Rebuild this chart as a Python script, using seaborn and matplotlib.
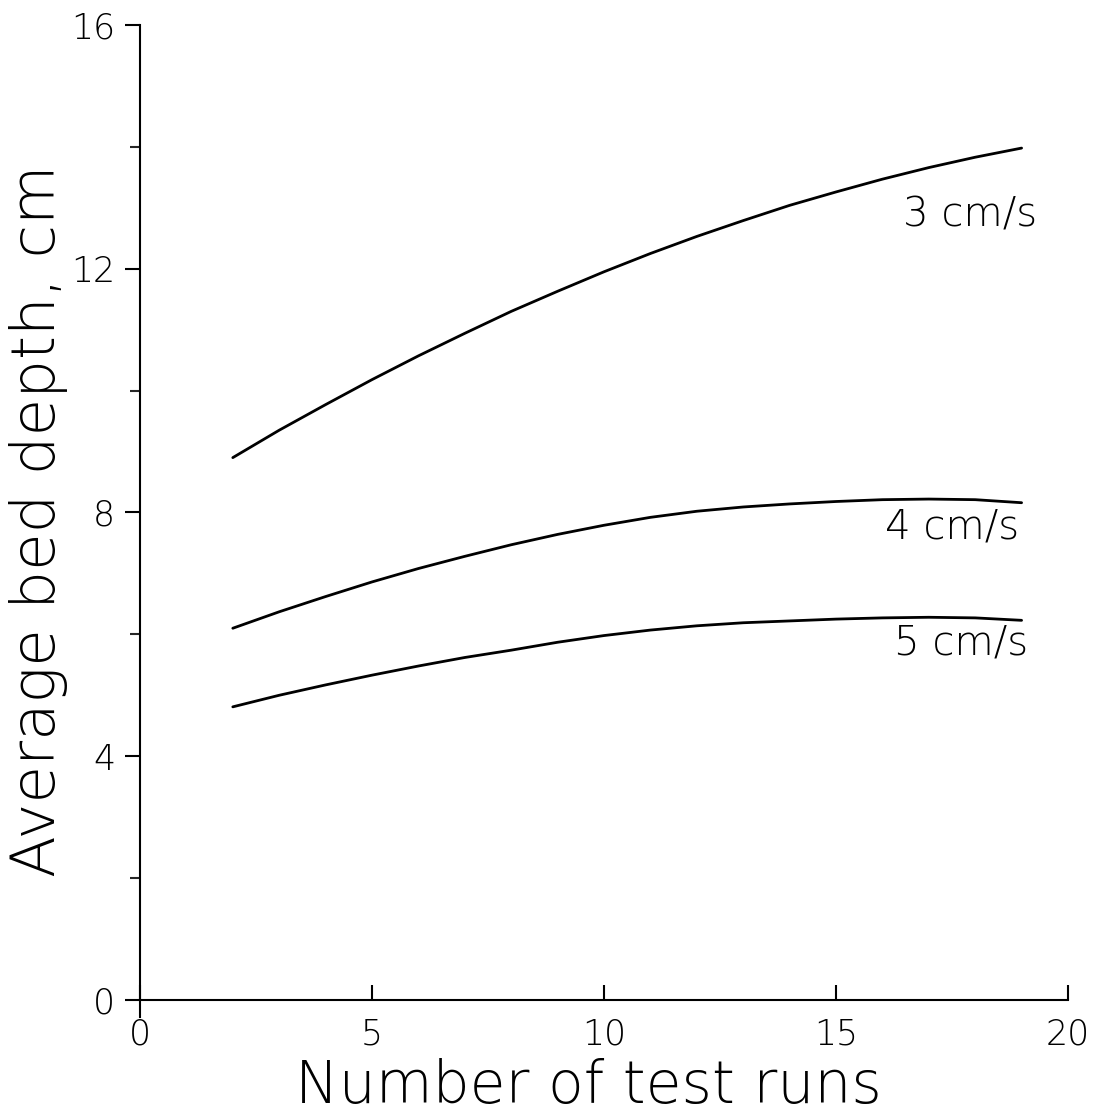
import numpy as np
import pandas as pd
import matplotlib
matplotlib.use("Agg")
import matplotlib.pyplot as plt
import seaborn as sns

# ---- data ----
test_runs = [2, 3, 4, 5, 6, 7, 8, 9, 10, 11, 12, 13, 14, 15, 16, 17, 18, 19]
depth_3cms = [8.90, 9.35, 9.77, 10.18, 10.57, 10.94, 11.30, 11.63, 11.95, 12.25,
              12.53, 12.79, 13.04, 13.26, 13.47, 13.66, 13.83, 13.98]
depth_4cms = [6.10, 6.37, 6.62, 6.86, 7.08, 7.28, 7.47, 7.64, 7.79, 7.92,
              8.02, 8.09, 8.14, 8.18, 8.21, 8.22, 8.21, 8.16]
depth_5cms = [4.81, 5.00, 5.17, 5.33, 5.48, 5.62, 5.74, 5.87, 5.98, 6.07,
              6.14, 6.19, 6.22, 6.25, 6.27, 6.28, 6.27, 6.23]
series_labels = ["3 cm/s", "4 cm/s", "5 cm/s"]
label_x = [16.45, 16.05, 16.25]
label_y = [12.88, 7.76, 5.86]
x_ticks = [0, 5, 10, 15, 20]
y_ticks = [0, 4, 8, 12, 16]
y_minor = [2, 6, 10, 14]
x_title = "Number of test runs"
y_title = "Average bed depth, cm"

df = pd.DataFrame({
    "runs": test_runs * 3,
    "depth": depth_3cms + depth_4cms + depth_5cms,
    "speed": [series_labels[0]] * len(test_runs)
             + [series_labels[1]] * len(test_runs)
             + [series_labels[2]] * len(test_runs),
})

sns.set_style("ticks")
plt.rcParams["font.family"] = ["DejaVu Sans"]

fig = plt.figure(figsize=(10.97, 11.18), dpi=100)
ax = fig.add_axes([140 / 1097, 1 - 1017 / 1118, (1068 - 140) / 1097, (1017 - 25) / 1118])

sns.lineplot(data=df, x="runs", y="depth", hue="speed",
             palette=["black"] * 3, linewidth=2.0, legend=False, ax=ax)

for lab, lx, ly in zip(series_labels, label_x, label_y):
    ax.text(lx, ly, lab, fontsize=29, ha="left", va="center",
            color="black", fontweight="light")

ax.set_xlim(0, 20)
ax.set_ylim(-0.28, 16)
ax.spines["top"].set_visible(False)
ax.spines["right"].set_visible(False)
ax.spines["bottom"].set_position(("data", 0))
for s in ("left", "bottom"):
    ax.spines[s].set_linewidth(1.5)
    ax.spines[s].set_color("black")

ax.set_xticks(x_ticks)
ax.set_xticklabels([str(t) for t in x_ticks])
ax.set_yticks(y_ticks)
ax.set_yticklabels([str(t) for t in y_ticks])
ax.set_yticks(y_minor, minor=True)

ax.tick_params(axis="x", direction="in", length=11, width=1.5, pad=13,
               labelsize=25, colors="black")
ax.tick_params(axis="y", which="major", direction="out", length=11, width=1.5,
               pad=7, labelsize=25, colors="black")
ax.tick_params(axis="y", which="minor", direction="out", length=7, width=1.5)
for lab in ax.get_xticklabels() + ax.get_yticklabels():
    lab.set_fontweight("light")

ax.set_xlabel(x_title, fontsize=42, fontweight="light", color="black")
ax.xaxis.label.set_va("baseline")
ax.set_ylabel(y_title, fontsize=44, fontweight="light", color="black")
ax.xaxis.set_label_coords(0.483, -0.0867)
ax.yaxis.set_label_coords(-0.078, 0.5)

fig.savefig("out.png", dpi=100, facecolor="white")
